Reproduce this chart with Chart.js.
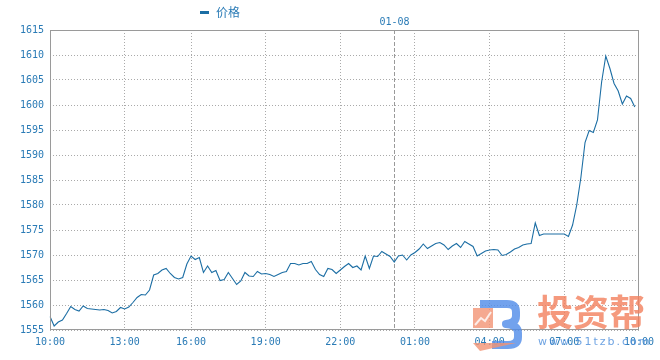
<!DOCTYPE html>
<html>
<head>
<meta charset="utf-8">
<script src="https://cdn.jsdelivr.net/npm/chart.js@4.4.1/dist/chart.umd.min.js"></script>
<style>
  html, body { margin: 0; padding: 0; background: #fff; }
</style>
</head>
<body>
<canvas id="priceChart" width="660" height="360"></canvas>
<script>
// ===== DATA (10-minute quotes, 01-07 10:00 -> 01-08 10:00) =====
const times = [
  '10:00','10:10','10:20','10:30','10:40','10:50','11:00','11:10','11:20','11:30','11:40','11:50',
  '12:00','12:10','12:20','12:30','12:40','12:50','13:00','13:10','13:20','13:30','13:40','13:50',
  '14:00','14:10','14:20','14:30','14:40','14:50','15:00','15:30','15:40','15:50',
  '16:00','16:10','16:20','16:30','16:40','16:50','17:00','17:10','17:20','17:30','17:40','17:50',
  '18:00','18:10','18:20','18:30','18:40','18:50','19:00','19:10','19:20','19:30','19:40','19:50',
  '20:00','20:10','20:20','20:30','20:40','20:50','21:00','21:10','21:20','21:30','21:40','21:50',
  '22:00','22:10','22:20','22:30','22:40','22:50','23:00','23:10','23:20','23:30','23:40','23:50',
  '00:00','00:10','00:20','00:30','00:40','00:50','01:00','01:10','01:20','01:30','01:40','01:50',
  '02:00','02:10','02:20','02:30','02:40','02:50','03:00','03:10','03:20','03:30','03:40','03:50',
  '04:00','04:10','04:20','04:30','04:40','04:50','05:00','05:10','05:20','05:30','05:40','05:50',
  '06:00','06:10','06:20','06:30','06:40','06:50','07:00','07:10','07:20','07:30','07:40','07:50',
  '08:00','08:10','08:20','08:30','08:40','08:50','09:00','09:10','09:20','09:30','09:40','09:50',
  '10:00'
];

const prices = [
  1557.7, 1555.8, 1556.6, 1557.0, 1558.3, 1559.7, 1559.1, 1558.8, 1559.8, 1559.3, 1559.2, 1559.1,
  1559.0, 1559.1, 1558.9, 1558.4, 1558.7, 1559.5, 1559.2, 1559.6, 1560.5, 1561.5, 1562.1, 1562.0,
  1563.0, 1566.0, 1566.3, 1567.0, 1567.3, 1566.3, 1565.5, 1565.2, 1565.5, 1568.2,
  1569.8, 1569.1, 1569.5, 1566.5, 1567.8, 1566.5, 1566.9, 1564.9, 1565.1, 1566.5, 1565.3, 1564.1,
  1564.8, 1566.5, 1565.8, 1565.7, 1566.7, 1566.2, 1566.3, 1566.1, 1565.7, 1566.1, 1566.5, 1566.7,
  1568.3, 1568.3, 1568.0, 1568.3, 1568.3, 1568.7, 1567.1, 1566.1, 1565.7, 1567.3, 1567.1, 1566.3,
  1567.0, 1567.7, 1568.3, 1567.5, 1567.8, 1567.0, 1569.8, 1567.3, 1569.8, 1569.7, 1570.7, 1570.2,
  1569.7, 1568.6, 1569.8, 1570.0, 1569.0, 1570.0, 1570.5, 1571.2, 1572.2, 1571.3, 1571.8, 1572.3,
  1572.5, 1572.0, 1571.1, 1571.8, 1572.3, 1571.5, 1572.7, 1572.2, 1571.7, 1569.8, 1570.3, 1570.8,
  1571.0, 1571.1, 1571.0, 1569.9, 1570.1, 1570.6, 1571.2, 1571.5, 1572.0, 1572.2, 1572.3, 1576.4,
  1573.9, 1574.2, 1574.2, 1574.2, 1574.2, 1574.2, 1574.2, 1573.7, 1576.0, 1580.0, 1585.5, 1592.5,
  1594.9, 1594.5, 1597.0, 1604.6, 1609.8, 1607.3, 1604.3, 1602.8, 1600.2, 1601.8, 1601.3, 1599.6
];

const tickTimes = ['10:00','13:00','16:00','19:00','22:00','01:00','04:00','07:00'];
const yMin = 1555;
const yMax = 1615;
const yStep = 5;
const seriesName = '价格';
const dayMarkTime = '00:10';
const dayMarkText = '01-08';

// ===== STYLE =====
const LINE_COLOR = '#1c6ea4';
const TEXT_COLOR = '#2a7bb6';
const GRID_COLOR = '#aaaaaa';
const FRAME_COLOR = '#9a9a9a';
const MONO = '"DejaVu Sans Mono", monospace';

// Date separator (dashed line + date) drawn under the line
const dayMarkPlugin = {
  id: 'dayMark',
  beforeDatasetsDraw(chart) {
    const idx = times.indexOf(dayMarkTime);
    if (idx < 0) return;
    const { ctx, chartArea } = chart;
    const x = Math.round(chart.scales.x.getPixelForValue(idx)) + 0.5;
    ctx.save();
    ctx.strokeStyle = FRAME_COLOR;
    ctx.lineWidth = 1;
    ctx.setLineDash([4, 2]);
    ctx.beginPath();
    ctx.moveTo(x, chartArea.top);
    ctx.lineTo(x, chartArea.bottom);
    ctx.stroke();
    ctx.setLineDash([]);
    ctx.fillStyle = TEXT_COLOR;
    ctx.font = '10px ' + MONO;
    ctx.textAlign = 'center';
    ctx.textBaseline = 'middle';
    ctx.fillText(dayMarkText, x, chartArea.top - 8);
    ctx.restore();
  }
};

// Frame box, custom legend and watermark
const framePlugin = {
  id: 'frame',
  afterDraw(chart) {
    const { ctx, chartArea } = chart;
    ctx.save();
    ctx.strokeStyle = FRAME_COLOR;
    ctx.lineWidth = 1;
    ctx.strokeRect(Math.round(chartArea.left) + 0.5, Math.round(chartArea.top) + 0.5,
      Math.round(chartArea.right - chartArea.left) - 1, Math.round(chartArea.bottom - chartArea.top) - 1);

    // legend
    ctx.fillStyle = LINE_COLOR;
    ctx.fillRect(200, 11, 9, 3);
    ctx.fillStyle = TEXT_COLOR;
    ctx.font = '12px "Noto Sans CJK SC", sans-serif';
    ctx.textBaseline = 'middle';
    ctx.textAlign = 'left';
    ctx.fillText(chart.data.datasets[0].label, 216, 12);

    // watermark
    ctx.globalAlpha = 0.8;
    ctx.fillStyle = '#f29474';
    ctx.fillRect(473, 308, 20, 20);
    ctx.strokeStyle = '#ffffff';
    ctx.lineWidth = 2;
    ctx.beginPath();
    ctx.moveTo(475, 325); ctx.lineTo(481, 318); ctx.lineTo(485, 321); ctx.lineTo(491, 312);
    ctx.stroke();
    ctx.strokeStyle = '#4f8be8';
    ctx.lineWidth = 8;
    ctx.lineJoin = 'round';
    ctx.beginPath();
    ctx.moveTo(480, 304);
    ctx.lineTo(507, 304);
    ctx.quadraticCurveTo(516, 304, 516, 312);
    ctx.lineTo(516, 316);
    ctx.quadraticCurveTo(516, 323, 506, 324);
    ctx.quadraticCurveTo(518, 325, 518, 333);
    ctx.lineTo(518, 337);
    ctx.quadraticCurveTo(518, 345, 508, 345);
    ctx.lineTo(492, 345);
    ctx.stroke();
    ctx.fillStyle = '#f29474';
    ctx.beginPath();
    ctx.moveTo(473, 343); ctx.lineTo(516, 343); ctx.lineTo(480, 351); ctx.closePath();
    ctx.fill();

    ctx.fillStyle = '#f2805c';
    ctx.font = 'bold 36px "Noto Sans CJK SC", sans-serif';
    ctx.textAlign = 'left';
    ctx.textBaseline = 'middle';
    ctx.fillText('投资帮', 537, 312);
    ctx.fillStyle = '#4a8cdb';
    ctx.font = '11px "DejaVu Sans", sans-serif';
    ctx.letterSpacing = '2px';
    ctx.fillText('www.51tzb.com', 538, 342);
    ctx.restore();
  }
};

new Chart(document.getElementById('priceChart'), {
  type: 'line',
  data: {
    labels: times,
    datasets: [{
      label: seriesName,
      data: prices,
      borderColor: LINE_COLOR,
      borderWidth: 1.1,
      pointRadius: 0,
      tension: 0,
      fill: false
    }]
  },
  options: {
    responsive: false,
    animation: false,
    layout: { padding: { top: 30, right: 20, left: 0, bottom: 0 } },
    plugins: {
      legend: { display: false },
      tooltip: { enabled: false }
    },
    scales: {
      x: {
        type: 'category',
        offset: false,
        afterFit(scale) { scale.height = 30; },
        afterBuildTicks(scale) {
          scale.ticks = scale.ticks.filter(t => tickTimes.includes(times[t.value]));
        },
        grid: { color: GRID_COLOR, drawTicks: false },
        border: { display: false, dash: [1, 2] },
        ticks: {
          autoSkip: false,
          maxRotation: 0,
          padding: 6,
          color: TEXT_COLOR,
          font: { family: MONO, size: 10 }
        }
      },
      y: {
        min: yMin,
        max: yMax,
        afterFit(scale) { scale.width = 50; },
        grid: { color: GRID_COLOR, drawTicks: false },
        border: { display: false, dash: [1, 2] },
        ticks: {
          stepSize: yStep,
          padding: 6,
          color: TEXT_COLOR,
          font: { family: MONO, size: 10 },
          callback: v => String(v)
        }
      }
    }
  },
  plugins: [dayMarkPlugin, framePlugin]
});
</script>
</body>
</html>
